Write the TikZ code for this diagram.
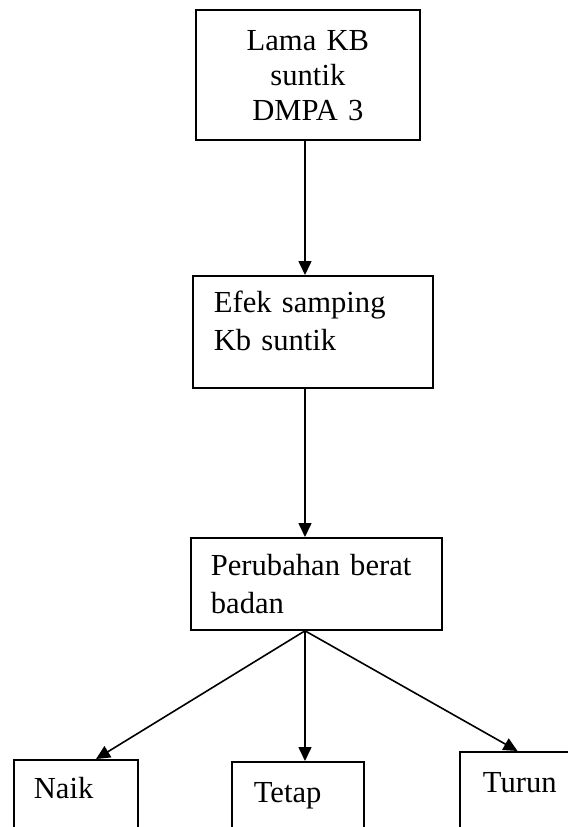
\documentclass[tikz,border=0pt]{standalone}
\usepackage{fontspec}
\setmainfont{Liberation Serif}
\usetikzlibrary{positioning, arrows.meta, calc}

\begin{document}
\begin{tikzpicture}[
    x=0.5pt, y=-0.5pt,
    % Node styles
    flowbox/.style={
        draw, line width=0.9pt, inner ysep=0pt, anchor=north west,
        font=\fontsize{15.3}{18.6}\selectfont, align=left
    },
    topbox/.style={flowbox, inner xsep=0pt, align=center,
        font=\fontsize{15.3}{17.5}\selectfont},
    leafbox/.style={flowbox},
    % Arrow style
    arrow/.style={-{Triangle[length=7pt, width=6.5pt]}, line width=0.8pt},
]

\useasboundingbox (0,0) rectangle (568,827);
\clip (0,0) rectangle (568,827);

% ============================================================
% MAIN COLUMN
% ============================================================

\node[topbox, text width=112pt, text height=20.5pt, text depth=44.5pt]
    (lama) at (195, 9) {Lama KB\\suntik\\DMPA 3};

\node[flowbox, inner xsep=10.5pt, text width=99pt, text height=18.5pt, text depth=37.5pt]
    (efek) at (192, 275) {Efek samping\\Kb suntik};

\node[flowbox, inner xsep=10pt, text width=105.5pt, text height=19pt, text depth=27pt]
    (ubah) at (190, 537) {Perubahan berat\\badan};

% --- Bottom row (runs off the page) ---
\node[leafbox, inner xsep=10pt, text width=42pt, text height=19.5pt, text depth=21pt]
    (naik) at (13, 759) {Naik};

\node[leafbox, inner xsep=11pt, text width=44pt, text height=20.5pt, text depth=19pt]
    (tetap) at (231, 761) {Tetap};

\node[leafbox, inner xsep=11.5pt, text width=47.5pt, text height=20.5pt, text depth=24pt]
    (turun) at (459, 751) {Turun};

% ============================================================
% ARROWS
% ============================================================

\coordinate (spine) at (305, 0);

\draw[arrow] (lama.south -| spine) -- (efek.north -| spine);
\draw[arrow] (efek.south -| spine) -- (ubah.north -| spine);

% fan out to the three outcomes
\draw[arrow] (ubah.south -| spine) -- ($(naik.north west)!0.66!(naik.north east)$);
\draw[arrow] (ubah.south -| spine) -- (tetap.north -| spine);
\draw[arrow] (ubah.south -| spine) -- ($(turun.north west)!0.41!(turun.north east)$);

\end{tikzpicture}
\end{document}
